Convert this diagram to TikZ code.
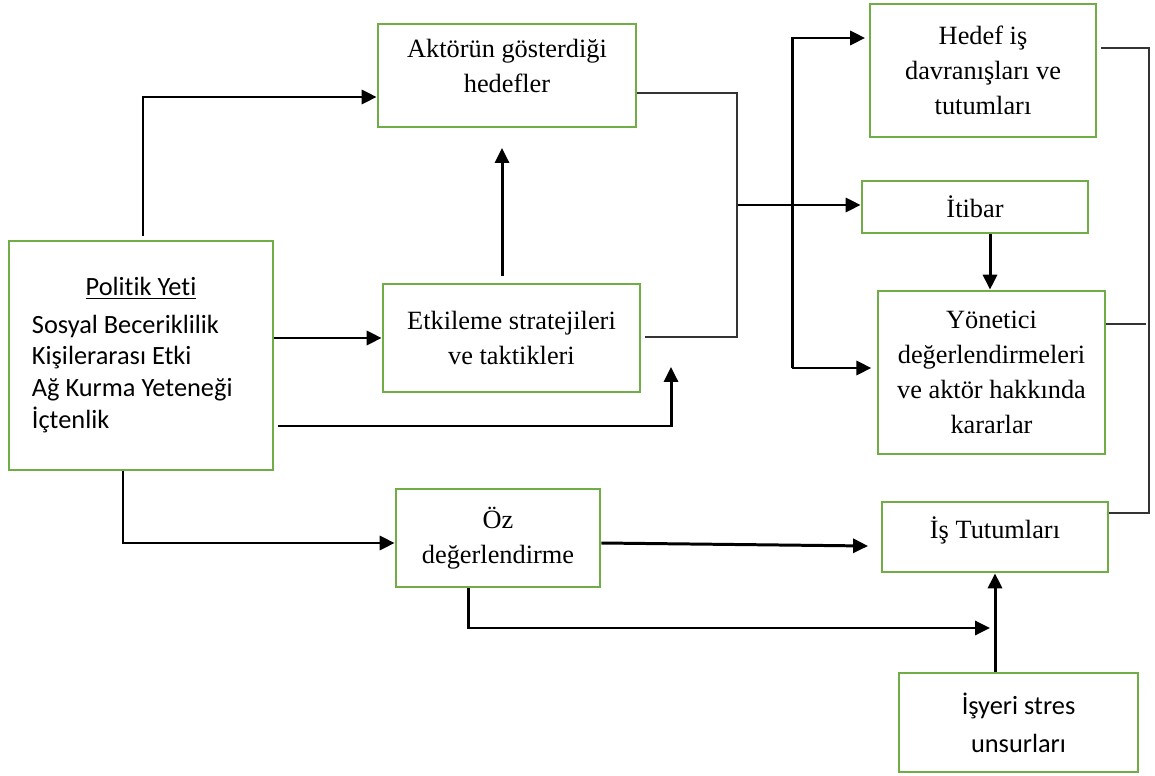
\documentclass[tikz,border=0pt]{standalone}
\usepackage{fontspec}
\setmainfont{Liberation Serif}
\newfontfamily\calibri[Ligatures=NoCommon]{Carlito}
\usetikzlibrary{arrows.meta}
\definecolor{boxgreen}{RGB}{112,173,71}

\begin{document}
\begin{tikzpicture}[x=0.02cm,y=-0.02cm,
  box/.style={draw=boxgreen,line width=1.6pt,align=center,inner sep=0pt,
    font=\fontsize{15}{19.8}\selectfont},
  arr/.style={-{Triangle[length=8.5pt,width=8pt]},line width=1.7pt},
  link/.style={line width=0.65pt,black!80}]
\useasboundingbox (0,0) rectangle (1155,776);
% ---------- kutular ----------
\node[box,minimum width=5.28cm,minimum height=4.58cm] (pol) at (141,355.5)
  {\calibri\fontsize{15}{18}\selectfont
   \begin{tabular}{@{}l@{\hspace{10pt}}}
   \multicolumn{1}{@{}c@{\hspace{10pt}}}{\hspace{10pt}\underline{Politik Yeti}}\\[3.5pt]
   Sosyal Beceriklilik\\ Kişilerarası Etki\\ Ağ Kurma Yeteneği\\ İçtenlik
   \end{tabular}};
\node[box,minimum width=5.16cm,minimum height=2.06cm,text depth=11pt] (akt) at (507,75.5)
  {Aktörün gösterdiği\\hedefler};
\node[box,minimum width=5.14cm,minimum height=2.16cm] (etk) at (511.5,338)
  {Etkileme stratejileri\\ve taktikleri};
\node[box,minimum width=4.08cm,minimum height=1.96cm] (oz) at (498,538)
  {Öz\\değerlendirme};
\node[box,minimum width=4.52cm,minimum height=2.66cm] (hed) at (983,70.5)
  {Hedef iş\\davranışları ve\\tutumları};
\node[box,minimum width=4.52cm,minimum height=1.04cm] (iti) at (975,207)
  {İtibar};
\node[box,minimum width=4.54cm,minimum height=3.26cm] (yon) at (991.5,372.5)
  {Yönetici\\değerlendirmeleri\\ve aktör hakkında\\kararlar};
\node[box,minimum width=4.52cm,minimum height=1.4cm,text depth=11pt] (ist) at (995,537)
  {İş Tutumları};
\node[box,minimum width=4.78cm,minimum height=1.98cm,
  font=\calibri\fontsize{15}{21.5}\selectfont] (str) at (1018.5,722.5)
  {İşyeri stres\\unsurları};
% ---------- kırılma noktaları ----------
\coordinate (c1) at (143,97);
\coordinate (c2) at (671,426);
\coordinate (c3) at (671,367);
\coordinate (c4) at (502,148);
\coordinate (c5) at (123,543);
\coordinate (c6) at (868,546);
\coordinate (c7) at (468,628);
\coordinate (c8) at (990,628);
\coordinate (j1) at (737,205);
\coordinate (j1a) at (737,93);
\coordinate (j1b) at (737,337);
\coordinate (b1) at (792,38);
\coordinate (b2) at (792,368);
\coordinate (r1) at (1149,48);
\coordinate (r2) at (1149,513);
\coordinate (r3) at (1146,324);
% ---------- oklar ----------
\draw[arr,shorten <=2pt] (pol.north -| c1) -- (c1) -- (akt.west |- c1);
\draw[arr] (pol.east |- etk.west) -- (etk.west);
\draw[arr,shorten <=2pt] (pol.east |- c2) -- (c2) -- (c3);
\draw[arr,shorten <=4pt] (etk.north -| c4) -- (c4);
\draw[arr] (j1) -- (iti.west |- j1);
\draw[arr,shorten >=2pt] (b2) -- (b1) -- (hed.west |- b1);
\draw[arr,shorten >=3pt] (b1 |- b2) -- (yon.west |- b2);
\draw[arr] (iti.south -| c8) -- (yon.north -| c8);
\draw[arr] (pol.south -| c5) -- (c5) -- (oz.west |- c5);
\draw[arr] (oz.east |- c5) -- (c6);
\draw[arr] (oz.south -| c7) -- (c7) -- (c8);
\draw[arr] (str.north -| ist.south) -- (ist.south);
% ince bağlantılar
\draw[link] (akt.east |- j1a) -- (j1a) -- (j1b) -- ([xshift=2pt]etk.east |- j1b);
\draw[link] ([xshift=2pt]hed.east |- r1) -- (r1) -- (r2) -- (ist.east |- r2);
\draw[link] (yon.east |- r3) -- (r3);
\end{tikzpicture}
\end{document}
